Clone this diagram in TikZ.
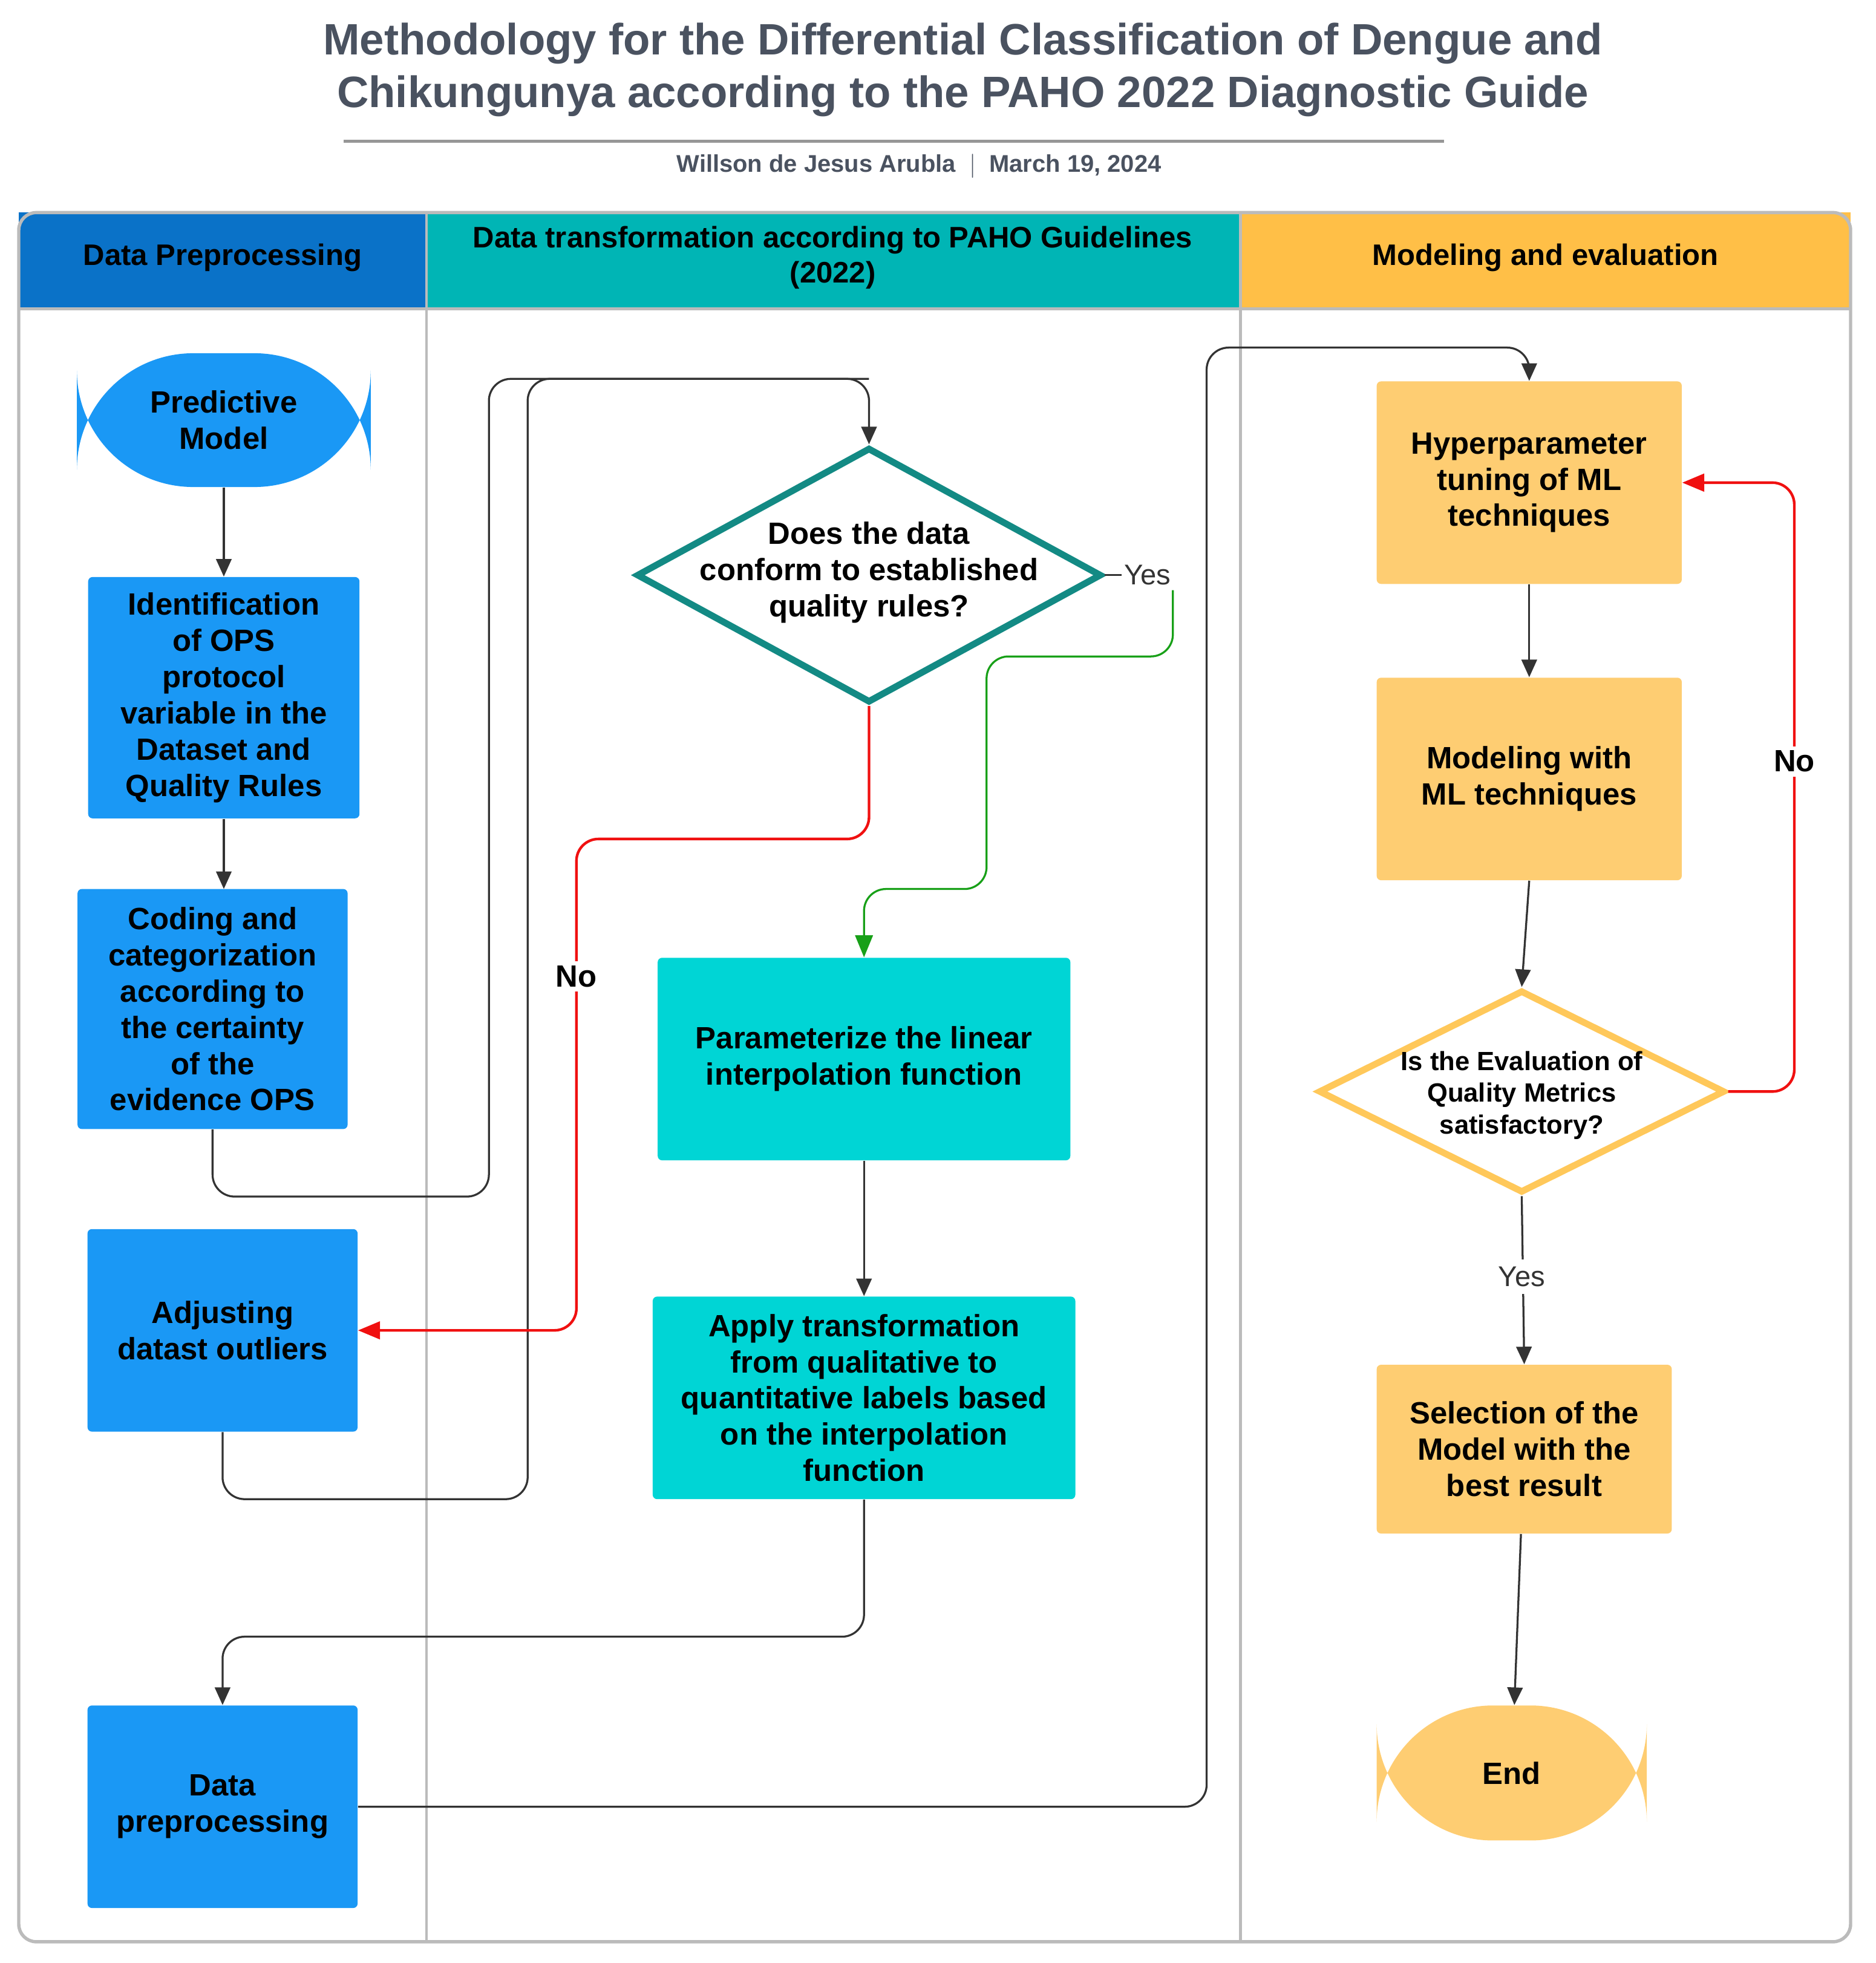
\documentclass[tikz,border=0pt]{standalone}
\usepackage{fontspec}
\setmainfont{Liberation Sans}
\usetikzlibrary{shapes.geometric,arrows.meta}
\definecolor{blu}{HTML}{1A98F5}
\definecolor{hblu}{HTML}{0A72C8}
\definecolor{hteal}{HTML}{00B5B5}
\definecolor{cy}{HTML}{00D5D5}
\definecolor{horg}{HTML}{FFBF47}
\definecolor{org}{HTML}{FECD72}
\definecolor{dteal}{HTML}{138A84}
\definecolor{dorg}{HTML}{FFC85A}
\definecolor{ttl}{HTML}{4A5260}
\definecolor{ln}{HTML}{333333}
\definecolor{lane}{HTML}{BBBBBB}
\definecolor{rd}{HTML}{F01010}
\definecolor{gr}{HTML}{18A018}
\begin{document}
\begin{tikzpicture}[x=0.02cm,y=-0.02cm,
 txt/.style={font=\fontsize{14}{16.5}\selectfont\bfseries,align=center,text=black},
 box/.style={txt,draw=none,rounded corners=2pt,inner sep=0pt},
 bb/.style={box,fill=blu},
 cb/.style={box,fill=cy},
 ob/.style={box,fill=org},
 con/.style={ln,line width=0.9pt,rounded corners=10pt},
 arr/.style={con,-{Triangle[length=8pt,width=7pt]}},
 rarr/.style={con,rd,line width=1.2pt,-{Triangle[length=10pt,width=8pt]}},
 garr/.style={con,gr,line width=0.9pt,-{Triangle[length=10pt,width=8pt]}},
 hd/.style={font=\fontsize{13.5}{16}\selectfont\bfseries,align=center,text=black}]
\useasboundingbox (0,0) rectangle (1500,1570);
% title
\node[font=\fontsize{20}{24}\selectfont\bfseries,text=ttl,align=center] (title) at (770,56)
 {Methodology for the Differential Classification of Dengue and\\Chikungunya according to the PAHO 2022 Diagnostic Guide};
\draw[lane!80!black,line width=1.2pt] (275,113) -- (1155,113);
\node[font=\fontsize{11}{13}\selectfont\bfseries,text=ttl] (sub) at (735,133) {Willson de Jesus Arubla \ $|$\ \ March 19, 2024};
% lanes
\fill[hblu] (15,170) rectangle (341,247);
\fill[hteal] (341,170) rectangle (992,247);
\fill[horg] (992,170) rectangle (1480,247);
\draw[lane,line width=1.5pt,rounded corners=8pt] (15,170) rectangle (1480,1553);
\draw[lane,line width=1.2pt] (15,247) -- (1480,247);
\draw[lane,line width=1.2pt] (341,170) -- (341,1553);
\draw[lane,line width=1.2pt] (992,170) -- (992,1553);
\node[hd] (h1) at (178,206) {Data Preprocessing};
\node[hd] (h2) at (666,206) {Data transformation according to PAHO Guidelines\\(2022)};
\node[hd] (h3) at (1236,206) {Modeling and evaluation};
% nodes
\node[txt,fill=blu,rounded corners=53pt,minimum width=235*0.02cm,minimum height=107*0.02cm,inner sep=0pt] (pm) at (179,336) {Predictive\\Model};
\node[bb,minimum width=217*0.02cm,minimum height=193*0.02cm] (id) at (179,558) {Identification\\of OPS\\protocol\\variable in the\\Dataset and\\Quality Rules};
\node[bb,minimum width=216*0.02cm,minimum height=192*0.02cm] (cod) at (170,807) {Coding and\\categorization\\according to\\the certainty\\of the\\evidence OPS};
\node[bb,minimum width=216*0.02cm,minimum height=162*0.02cm] (adj) at (178,1064) {Adjusting\\datast outliers};
\node[bb,minimum width=216*0.02cm,minimum height=162*0.02cm] (dp) at (178,1445) {Data\\preprocessing};
\node[txt,diamond,draw=dteal,line width=3pt,fill=white,minimum width=372*0.02cm,minimum height=204*0.02cm,aspect=1.8,inner sep=0pt] (d1) at (695,460) {};
\node[txt] (d1t) at (695,458) {Does the data\\conform to established\\quality rules?};
\node[cb,minimum width=330*0.02cm,minimum height=162*0.02cm] (par) at (691,847) {Parameterize the linear\\interpolation function};
\node[cb,minimum width=338*0.02cm,minimum height=162*0.02cm] (app) at (691,1118) {Apply transformation\\from qualitative to\\quantitative labels based\\on the interpolation\\function};
\node[ob,minimum width=244*0.02cm,minimum height=162*0.02cm] (hyp) at (1223,386) {Hyperparameter\\tuning of ML\\techniques};
\node[ob,minimum width=244*0.02cm,minimum height=162*0.02cm] (mod) at (1223,623) {Modeling with\\ML techniques};
\node[diamond,draw=dorg,line width=3pt,fill=white,minimum width=325*0.02cm,minimum height=162*0.02cm,aspect=2,inner sep=0pt] (d2) at (1217,873) {};
\node[font=\fontsize{12}{14.5}\selectfont\bfseries,align=center] (d2t) at (1217,876) {Is the Evaluation of\\Quality Metrics\\satisfactory?};
\node[ob,minimum width=236*0.02cm,minimum height=135*0.02cm] (sel) at (1219,1159) {Selection of the\\Model with the\\best result};
\node[txt,fill=org,rounded corners=53pt,minimum width=216*0.02cm,minimum height=108*0.02cm,inner sep=0pt] (end) at (1209,1418) {End};
% connectors
\draw[arr] (pm) -- (id);
\draw[arr] (id.south) -- (179,711);
\draw[arr] (cod.south) |- (391,957) |- (695,303) -- (d1.north);
\draw[con] (adj.south) |- (422,1199) |- (695,303);
\draw[rarr] (d1.south) |- (461,671) |- (adj.east);
\node[txt,fill=white,inner sep=2pt] (no1) at (461,781) {No};
\draw[ln,line width=0.9pt] (d1.east) -- (897,460) coordinate (y1);
\node[font=\fontsize{13}{15}\selectfont,text=ln,anchor=west,inner sep=1pt] (yes1) at (y1) {Yes};
\draw[garr] (938,472) |- (789,525) |- (691,711) -- (par.north);
\draw[arr] (par) -- (app);
\draw[arr] (app.south) |- (178,1309) -- (dp.north);
\draw[arr] (dp.east) -| (965,278) -| (hyp.north);
\draw[arr] (hyp) -- (mod);
\draw[arr] (mod.south) -- (d2.north);
\draw[arr] (d2.south) -- (sel.north);
\node[font=\fontsize{13}{15}\selectfont,text=ln,fill=white] (yes2) at (1217,1021) {Yes};
\draw[rarr] (d2.east) -| (1435,386) -- (hyp.east);
\node[txt,fill=white,inner sep=2pt] (no2) at (1435,609) {No};
\draw[arr] (sel) -- (end);
\end{tikzpicture}
\end{document}
